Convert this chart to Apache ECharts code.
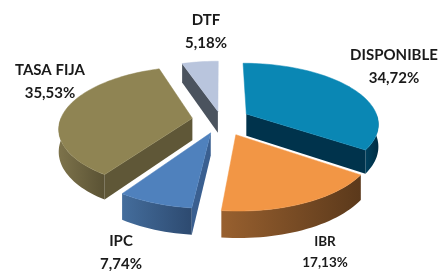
<!DOCTYPE html>
<html>
<head>
<meta charset="utf-8">
<script src="https://cdn.jsdelivr.net/npm/echarts@6/dist/echarts.min.js"></script>
<style>
  html, body { margin: 0; padding: 0; background: #fff; }
  #chart { width: 442px; height: 271px; }
</style>
</head>
<body>
<div id="chart"></div>
<script>
// datos del grafico (porcentajes del portafolio)
const categories = ['DISPONIBLE', 'IBR', 'IPC', 'TASA FIJA', 'DTF'];
const shares = [34.72, 17.13, 7.74, 35.53, 5.18];

// estilo por porcion
const topColors = ['#0a87b4', '#f29645', '#4f81bd', '#8f8453', '#b9c5dd'];
const wallColors = [['#00415e', '#002c42'], ['#98602f', '#5b391b'], ['#446d9c', '#2d4a70'], ['#7d734b', '#5a5234'], ['#59616c', '#474f59']];
const faceColors = ['#00334c', '#6a4424', '#3a5f90', '#5f5737', '#4b535e'];
const explode = [0.22, 0.26, 0.22, 0.22, 0.15];
const labelPos = [[394, 67], [325, 252], [121, 253], [50, 82], [206, 32]];
const labelSize = [15, 13.5, 15, 15, 15];

// proyeccion 3D simple (perspectiva ligera)
const CX = 221, CY = 120, A = 132, B = 60, P = 0.15, H = 22;
function proj(X, Z, h) {
  const s = 1 / (1 - P * Z);
  return [CX + A * X * s, CY + (B * Z + h) * s];
}
const rad = d => d * Math.PI / 180;

const total = shares.reduce((t, v) => t + v, 0);
const starts = [];
let acc = 0;
shares.forEach(v => { starts.push(acc / total * 360); acc += v; });

// orden de pintado: de atras hacia adelante
const depth = shares.map((v, i) => {
  const m = starts[i] + v / total * 180;
  return -explode[i] * Math.cos(rad(m));
});
const rank = depth.map((d, i) => depth.filter(x => x < d).length);

function renderItem(params, api) {
  const i = params.dataIndex;
  const val = api.value(0);
  const a = starts[i], b = a + val / total * 360, m = (a + b) / 2;
  const ox = explode[i] * Math.sin(rad(m)), oz = -explode[i] * Math.cos(rad(m));
  const pt = (t, r, h) => proj(ox + r * Math.sin(rad(t)), oz - r * Math.cos(rad(t)), h);
  const arc = (t0, t1, h) => {
    const n = Math.max(2, Math.ceil(Math.abs(t1 - t0) / 2));
    const out = [];
    for (let k = 0; k <= n; k++) out.push(pt(t0 + (t1 - t0) * k / n, 1, h));
    return out;
  };
  const base = rank[i] * 10;
  const kids = [];
  // pared exterior visible (frente)
  const lo = Math.max(a, 90), hi = Math.min(b, 270);
  if (lo < hi) {
    kids.push({
      type: 'polygon', z2: base + 1,
      shape: { points: arc(lo, hi, 0).concat(arc(hi, lo, H)) },
      style: {
        fill: new echarts.graphic.LinearGradient(0, 0, 1, 0, [
          { offset: 0, color: wallColors[i][0] }, { offset: 1, color: wallColors[i][1] }])
      }
    });
  }
  // caras de corte visibles
  if (Math.sin(rad(a)) < -1e-6) {
    kids.push({
      type: 'polygon', z2: base + 2,
      shape: { points: [pt(a, 0, 0), pt(a, 1, 0), pt(a, 1, H), pt(a, 0, H)] },
      style: { fill: faceColors[i] }
    });
  }
  if (Math.sin(rad(b)) > 1e-6) {
    kids.push({
      type: 'polygon', z2: base + 2,
      shape: { points: [pt(b, 0, 0), pt(b, 1, 0), pt(b, 1, H), pt(b, 0, H)] },
      style: { fill: faceColors[i] }
    });
  }
  // tapa
  kids.push({
    type: 'polygon', z2: base + 5,
    shape: { points: [pt(a, 0, 0)].concat(arc(a, b, 0)) },
    style: { fill: topColors[i], stroke: topColors[i], lineWidth: 0.5 }
  });
  kids.push({
    type: 'text', z2: 200,
    style: {
      text: categories[i] + '\n' + val.toFixed(2).replace('.', ',') + '%',
      x: labelPos[i][0], y: labelPos[i][1],
      align: 'center', verticalAlign: 'middle',
      font: 'bold ' + labelSize[i] + 'px Lato',
      lineHeight: labelSize[i] * 1.55,
      fill: '#1a1a1a'
    }
  });
  return { type: 'group', children: kids };
}

const chart = echarts.init(document.getElementById('chart'));
chart.setOption({
  animation: false,
  series: [{
    type: 'custom',
    coordinateSystem: 'none',
    renderItem: renderItem,
    data: shares.map((v, i) => ({ name: categories[i], value: [v] }))
  }]
});
</script>
</body>
</html>
